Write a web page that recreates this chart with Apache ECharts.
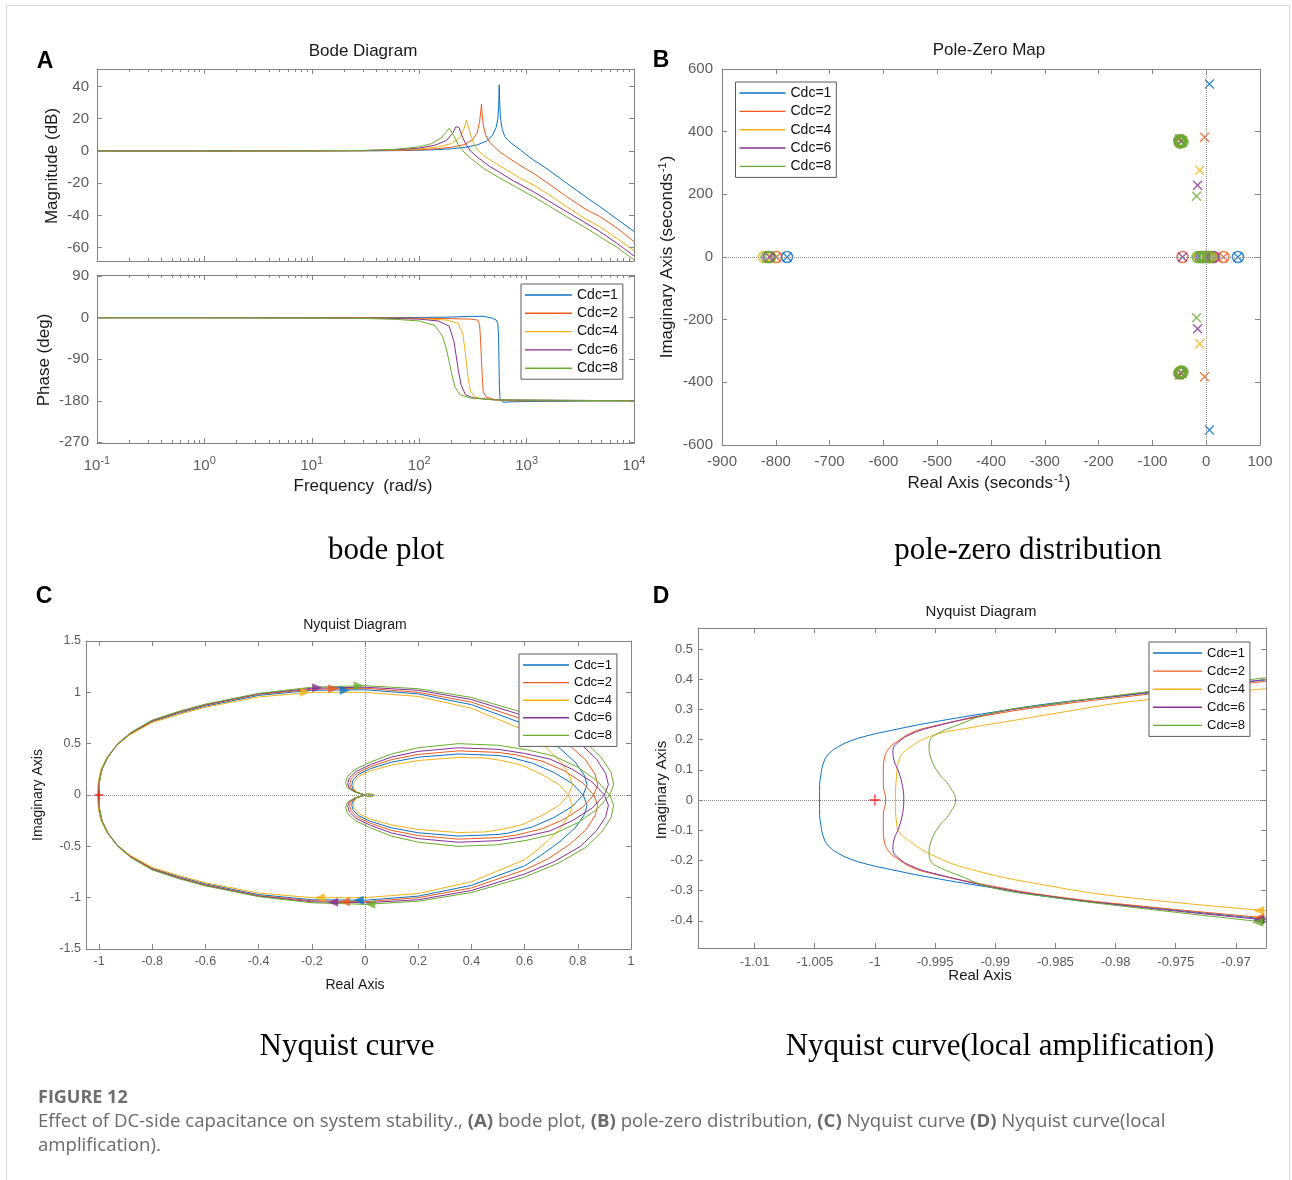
<!DOCTYPE html>
<html><head><meta charset="utf-8">
<script src="https://cdn.jsdelivr.net/npm/echarts@6.0.0/dist/echarts.min.js"></script>
<style>html,body{margin:0;padding:0;background:#fff}#c{width:1292px;height:1180px}</style>
</head><body><div id="c"></div>
<script>
// ---------------- DATA ----------------
const seriesNames = ['Cdc=1', 'Cdc=2', 'Cdc=4', 'Cdc=6', 'Cdc=8'];
const colors = ['#0a72c2', '#ee5a1c', '#f4b116', '#862f95', '#6aad2e'];

// Bode magnitude: [frequency rad/s, dB]
const mag1 = [[0.1,0],[1,0],[10,0.01],[30,0.05],[60,0.15],[100,0.4],[150,0.8],[200,1.3],[280,2.4],[350,3.8],[420,6],[480,9.5],[520,14.5],[540,20],[550,28],[556,41],[560,32],[570,21],[590,14],[625,9],[700,5.5],[800,2.5],[900,0],[1000,-2.5],[1150,-5.5],[1500,-10.5],[2000,-16.5],[2350,-20],[3000,-25],[4000,-31],[4800,-34.5],[7000,-42.5],[10000,-50]];
const mag2 = [[0.1,0],[1,0],[10,0.01],[30,0.1],[60,0.3],[100,0.7],[150,1.4],[200,2.3],[260,3.8],[310,6.5],[345,11],[365,18],[375,25],[380,29],[385,23],[395,16],[415,10],[450,5.5],[500,2.5],[560,-0.4],[650,-3.5],[800,-7.5],[1000,-11.5],[1150,-13.8],[1500,-19],[2350,-28.3],[3500,-36],[4800,-40.7],[7000,-48],[10000,-56.3]];
const mag4 = [[0.1,0],[1,0],[10,0.02],[30,0.15],[60,0.5],[100,1.2],[150,2.5],[200,4.5],[240,8.5],[262,14],[275,19],[285,16],[300,10],[320,5],[350,0.5],[400,-3],[480,-6.5],[563,-9.3],[700,-13],[900,-17.5],[1150,-21],[1600,-27],[2350,-34.5],[3500,-42],[4800,-47],[7000,-54.5],[10000,-61.9]];
const mag6 = [[0.1,0],[1,0],[10,0.03],[30,0.2],[60,0.7],[100,1.7],[140,3.5],[180,6.5],[205,11],[220,15],[226,16],[235,14.5],[250,9.5],[270,4.5],[300,0],[350,-4],[450,-9.5],[563,-13.4],[750,-18.5],[1150,-25.2],[1600,-31],[2350,-37.6],[3500,-44.5],[4800,-50],[7000,-57.5],[10000,-65.2]];
const mag8 = [[0.1,0],[1,0],[10,0.04],[30,0.3],[60,1],[100,2.5],[130,4.5],[160,8],[180,12],[190,14],[198,13],[210,9.5],[230,4],[255,0],[300,-4.5],[400,-11],[563,-16.9],[800,-22.5],[1150,-28.3],[1600,-34],[2350,-40.7],[3500,-47.5],[4800,-53.2],[7000,-60],[10000,-67.6]];

// Bode phase: [frequency rad/s, deg]
const ph1 = [[0.1,0],[1,0],[10,0],[100,0.5],[200,1.5],[300,3],[400,3],[480,-1],[520,-5],[540,-12],[548,-40],[553,-90],[558,-150],[565,-175],[600,-183],[700,-182.5],[1000,-181.5],[10000,-180]];
const ph2 = [[0.1,0],[1,0],[10,0],[50,-0.5],[100,-1],[200,-2],[300,-3],[350,-5],[365,-15],[373,-50],[380,-90],[387,-130],[395,-160],[420,-172],[500,-177],[700,-180],[10000,-180]];
const ph4 = [[0.1,0],[1,0],[10,-0.2],[50,-1],[100,-2],[180,-5],[230,-12],[255,-35],[265,-65],[275,-95],[285,-130],[300,-160],[330,-172],[400,-176],[600,-179],[10000,-180]];
const ph6 = [[0.1,0],[1,0],[10,-0.3],[50,-1.5],[100,-3],[150,-7],[190,-18],[210,-50],[220,-80],[230,-110],[245,-145],[270,-167],[320,-174],[500,-178],[10000,-180]];
const ph8 = [[0.1,0],[1,0],[10,-0.5],[30,-1.5],[60,-3.5],[100,-7],[140,-17],[165,-40],[180,-70],[190,-95],[200,-120],[215,-150],[240,-167],[300,-174],[500,-178],[10000,-180]];

// Pole-zero map: [real, imag]
const poles1 = [[6,552],[6,-552],[59,0],[-779,0],[-47,369],[-47,-369]];
const zeros1 = [[59,0],[-779,0],[-48,368],[-48,-368],[-3,0]];
const poles2 = [[-3,382],[-3,-382],[32,0],[-799,0],[-50,377],[-50,-377]];
const zeros2 = [[32,0],[-799,0],[-44,0],[-47,370],[-47,-370],[3,0],[11,0]];
const poles4 = [[-12,277],[-12,-277],[-45,371],[-45,-371]];
const zeros4 = [[-822,0],[-49,367],[-49,-367],[-13,0],[7,0]];
const poles6 = [[-16,229],[-16,-229],[-44,0],[-812,0],[-46,372],[-46,-372]];
const zeros6 = [[-813,0],[-48,370],[-48,-370],[14,0],[-8,0]];
const poles8 = [[-18,194],[-18,-194],[-45,370],[-45,-370]];
const zeros8 = [[-817,0],[-810,0],[-47,369],[-47,-369],[-46,372],[-44,367],[-50,373],[-49,365],[-44,-367],[-50,-372],[-46,-365],[-16,0],[-11,0],[-6,0],[-1,0],[4,0],[8,0]];

// Nyquist (full view): [real, imag]
const nyqC1 = [[0,0],[-0.028,0.024],[-0.045,0.056],[-0.05,0.096],[-0.045,0.144],[-0.025,0.2],[0.02,0.256],[0.1,0.32],[0.2,0.368],[0.35,0.4],[0.5,0.385],[0.54,0.37],[0.63,0.31],[0.71,0.22],[0.78,0.11],[0.82,0],[0.835,-0.1],[0.825,-0.19],[0.79,-0.32],[0.73,-0.46],[0.66,-0.59],[0.6,-0.69],[0.4,-0.88],[0.2,-0.985],[0,-1.025],[-0.2,-1.02],[-0.4,-0.97],[-0.6,-0.865],[-0.7,-0.795],[-0.8,-0.715],[-0.882,-0.595],[-0.934,-0.485],[-0.969,-0.365],[-0.992,-0.245],[-1.002,-0.12],[-1.004,0],[-1.002,0.12],[-0.992,0.245],[-0.969,0.365],[-0.934,0.485],[-0.882,0.595],[-0.8,0.715],[-0.7,0.795],[-0.6,0.865],[-0.4,0.97],[-0.2,1.02],[0,1.025],[0.2,0.985],[0.4,0.88],[0.6,0.69],[0.66,0.59],[0.73,0.46],[0.79,0.32],[0.825,0.19],[0.835,0.1],[0.82,0],[0.78,-0.11],[0.71,-0.22],[0.63,-0.31],[0.54,-0.37],[0.5,-0.385],[0.35,-0.4],[0.2,-0.368],[0.1,-0.32],[0.02,-0.256],[-0.025,-0.2],[-0.045,-0.144],[-0.05,-0.096],[-0.045,-0.056],[-0.028,-0.024],[0,0]];
const nyqC2 = [[0.03,0],[0.025,0.01],[0.008,0.012],[0,0],[-0.032,0.026],[-0.052,0.06],[-0.058,0.103],[-0.052,0.155],[-0.029,0.215],[0.02,0.275],[0.1,0.345],[0.2,0.395],[0.35,0.43],[0.5,0.415],[0.57,0.39],[0.665,0.33],[0.75,0.235],[0.82,0.115],[0.86,0],[0.875,-0.1],[0.865,-0.2],[0.83,-0.34],[0.77,-0.48],[0.69,-0.62],[0.6,-0.73],[0.4,-0.905],[0.2,-1.0],[0,-1.04],[-0.2,-1.03],[-0.4,-0.98],[-0.6,-0.875],[-0.7,-0.805],[-0.8,-0.72],[-0.88,-0.6],[-0.932,-0.49],[-0.967,-0.37],[-0.99,-0.25],[-1.0,-0.125],[-1.002,0],[-1.0,0.125],[-0.99,0.25],[-0.967,0.37],[-0.932,0.49],[-0.88,0.6],[-0.8,0.72],[-0.7,0.805],[-0.6,0.875],[-0.4,0.98],[-0.2,1.03],[0,1.04],[0.2,1.0],[0.4,0.905],[0.6,0.73],[0.69,0.62],[0.77,0.48],[0.83,0.34],[0.865,0.2],[0.875,0.1],[0.86,0],[0.82,-0.115],[0.75,-0.235],[0.665,-0.33],[0.57,-0.39],[0.5,-0.415],[0.35,-0.43],[0.2,-0.395],[0.1,-0.345],[0.02,-0.275],[-0.029,-0.215],[-0.052,-0.155],[-0.058,-0.103],[-0.052,-0.06],[-0.032,-0.026],[0,0],[0.008,-0.012],[0.025,-0.01],[0.03,0]];
const nyqC4 = [[0,0],[-0.025,0.022],[-0.04,0.051],[-0.045,0.088],[-0.04,0.131],[-0.022,0.183],[0.02,0.234],[0.1,0.292],[0.2,0.336],[0.35,0.365],[0.45,0.36],[0.505,0.34],[0.59,0.29],[0.665,0.2],[0.73,0.1],[0.765,0],[0.78,-0.1],[0.77,-0.18],[0.74,-0.31],[0.69,-0.44],[0.64,-0.55],[0.6,-0.63],[0.4,-0.845],[0.2,-0.96],[0,-1.0],[-0.2,-1.0],[-0.4,-0.955],[-0.6,-0.855],[-0.7,-0.785],[-0.8,-0.705],[-0.885,-0.585],[-0.937,-0.475],[-0.972,-0.36],[-0.994,-0.24],[-1.003,-0.12],[-1.005,0],[-1.003,0.12],[-0.994,0.24],[-0.972,0.36],[-0.937,0.475],[-0.885,0.585],[-0.8,0.705],[-0.7,0.785],[-0.6,0.855],[-0.4,0.955],[-0.2,1.0],[0,1.0],[0.2,0.96],[0.4,0.845],[0.6,0.63],[0.64,0.55],[0.69,0.44],[0.74,0.31],[0.77,0.18],[0.78,0.1],[0.765,0],[0.73,-0.1],[0.665,-0.2],[0.59,-0.29],[0.505,-0.34],[0.45,-0.36],[0.35,-0.365],[0.2,-0.336],[0.1,-0.292],[0.02,-0.234],[-0.022,-0.183],[-0.04,-0.131],[-0.045,-0.088],[-0.04,-0.051],[-0.025,-0.022],[0,0]];
const nyqC6 = [[0,0],[-0.036,0.028],[-0.059,0.065],[-0.065,0.11],[-0.059,0.165],[-0.033,0.23],[0.02,0.295],[0.1,0.37],[0.2,0.425],[0.35,0.46],[0.5,0.445],[0.6,0.405],[0.695,0.35],[0.78,0.25],[0.855,0.125],[0.9,0],[0.915,-0.1],[0.905,-0.21],[0.87,-0.35],[0.81,-0.5],[0.71,-0.65],[0.6,-0.77],[0.4,-0.93],[0.2,-1.02],[0,-1.05],[-0.2,-1.04],[-0.4,-0.985],[-0.6,-0.88],[-0.7,-0.81],[-0.8,-0.725],[-0.88,-0.605],[-0.93,-0.495],[-0.965,-0.375],[-0.988,-0.255],[-0.999,-0.13],[-1.001,0],[-0.999,0.13],[-0.988,0.255],[-0.965,0.375],[-0.93,0.495],[-0.88,0.605],[-0.8,0.725],[-0.7,0.81],[-0.6,0.88],[-0.4,0.985],[-0.2,1.04],[0,1.05],[0.2,1.02],[0.4,0.93],[0.6,0.77],[0.71,0.65],[0.81,0.5],[0.87,0.35],[0.905,0.21],[0.915,0.1],[0.9,0],[0.855,-0.125],[0.78,-0.25],[0.695,-0.35],[0.6,-0.405],[0.5,-0.445],[0.35,-0.46],[0.2,-0.425],[0.1,-0.37],[0.02,-0.295],[-0.033,-0.23],[-0.059,-0.165],[-0.065,-0.11],[-0.059,-0.065],[-0.036,-0.028],[0,0]];
const nyqC8 = [[0.035,0],[0.03,0.012],[0.01,0.014],[0,0],[-0.04,0.03],[-0.066,0.07],[-0.073,0.12],[-0.066,0.18],[-0.037,0.25],[0.02,0.32],[0.1,0.4],[0.2,0.46],[0.35,0.5],[0.5,0.485],[0.61,0.44],[0.71,0.38],[0.8,0.27],[0.874,0.135],[0.92,0],[0.935,-0.1],[0.925,-0.22],[0.89,-0.36],[0.83,-0.51],[0.73,-0.66],[0.6,-0.8],[0.4,-0.95],[0.2,-1.035],[0,-1.065],[-0.2,-1.05],[-0.4,-0.99],[-0.6,-0.885],[-0.7,-0.815],[-0.8,-0.73],[-0.88,-0.61],[-0.93,-0.5],[-0.965,-0.38],[-0.988,-0.26],[-0.998,-0.13],[-1.0,0],[-0.998,0.13],[-0.988,0.26],[-0.965,0.38],[-0.93,0.5],[-0.88,0.61],[-0.8,0.73],[-0.7,0.815],[-0.6,0.885],[-0.4,0.99],[-0.2,1.05],[0,1.065],[0.2,1.035],[0.4,0.95],[0.6,0.8],[0.73,0.66],[0.83,0.51],[0.89,0.36],[0.925,0.22],[0.935,0.1],[0.92,0],[0.874,-0.135],[0.8,-0.27],[0.71,-0.38],[0.61,-0.44],[0.5,-0.485],[0.35,-0.5],[0.2,-0.46],[0.1,-0.4],[0.02,-0.32],[-0.037,-0.25],[-0.066,-0.18],[-0.073,-0.12],[-0.066,-0.07],[-0.04,-0.03],[0,0],[0.01,-0.014],[0.03,-0.012],[0.035,0]];
const arrowsTopC = [[-0.076,1.02],[-0.12,1.035],[-0.225,1.0],[-0.18,1.045],[-0.024,1.065]];
const arrowsBotC = [[-0.024,-1.025],[-0.076,-1.04],[-0.17,-1.0],[-0.12,-1.045],[0.02,-1.065]];

// Nyquist (local view near -1): [real, imag]
const nyqD1 = [[-0.9670,0.400],[-0.9787,0.348],[-0.9853,0.320],[-0.9900,0.292],[-0.9953,0.257],[-0.9987,0.230],[-1.0007,0.212],[-1.0020,0.196],[-1.0031,0.175],[-1.0039,0.150],[-1.0043,0.120],[-1.0045,0.080],[-1.0046,0.040],[-1.0046,0],[-1.0046,-0.040],[-1.0045,-0.080],[-1.0043,-0.120],[-1.0039,-0.150],[-1.0031,-0.175],[-1.0020,-0.196],[-1.0007,-0.212],[-0.9987,-0.230],[-0.9953,-0.257],[-0.9900,-0.292],[-0.9853,-0.322],[-0.9787,-0.350],[-0.9670,-0.396]];
const nyqD2 = [[-0.9670,0.395],[-0.9787,0.344],[-0.9853,0.313],[-0.9900,0.285],[-0.9953,0.243],[-0.9970,0.222],[-0.9980,0.197],[-0.9988,0.172],[-0.9992,0.140],[-0.9993,0.100],[-0.9993,0.050],[-0.9991,0],[-0.9993,-0.050],[-0.9993,-0.100],[-0.9992,-0.140],[-0.9988,-0.172],[-0.9980,-0.197],[-0.9970,-0.222],[-0.9953,-0.243],[-0.9900,-0.287],[-0.9853,-0.318],[-0.9787,-0.348],[-0.9670,-0.392]];
const nyqD4 = [[-0.9670,0.370],[-0.9787,0.326],[-0.9853,0.285],[-0.9887,0.262],[-0.9920,0.240],[-0.9953,0.212],[-0.9973,0.168],[-0.9980,0.133],[-0.9982,0.078],[-0.9983,0],[-0.9982,-0.076],[-0.9980,-0.105],[-0.9973,-0.131],[-0.9953,-0.181],[-0.9920,-0.230],[-0.9853,-0.286],[-0.9787,-0.324],[-0.9670,-0.368]];
const nyqD6 = [[-0.9670,0.401],[-0.9787,0.350],[-0.9853,0.317],[-0.9900,0.289],[-0.9953,0.241],[-0.9970,0.218],[-0.9980,0.193],[-0.9985,0.163],[-0.9984,0.130],[-0.9980,0.090],[-0.9977,0.045],[-0.9976,0],[-0.9977,-0.045],[-0.9980,-0.090],[-0.9984,-0.130],[-0.9985,-0.163],[-0.9980,-0.193],[-0.9970,-0.218],[-0.9953,-0.241],[-0.9900,-0.290],[-0.9853,-0.320],[-0.9787,-0.352],[-0.9670,-0.399]];
const nyqD8 = [[-0.9670,0.407],[-0.9787,0.352],[-0.9853,0.318],[-0.9903,0.288],[-0.9930,0.250],[-0.9947,0.222],[-0.9953,0.205],[-0.9955,0.178],[-0.9953,0.133],[-0.9947,0.089],[-0.9938,0.045],[-0.9933,0],[-0.9938,-0.045],[-0.9947,-0.089],[-0.9953,-0.133],[-0.9955,-0.178],[-0.9953,-0.205],[-0.9947,-0.222],[-0.9930,-0.250],[-0.9903,-0.290],[-0.9853,-0.322],[-0.9787,-0.355],[-0.9670,-0.407]];
const arrowsD = [[-0.9681,-0.394],[-0.9681,-0.390],[-0.9681,-0.366],[-0.9681,-0.398],[-0.9682,-0.405]];
const criticalPoint = [[-1, 0]];

// Tick values
const magTicks = [-60, -40, -20, 0, 20, 40];
const phaseTicks = [-270, -180, -90, 0, 90];
const freqMinor = [0.2,0.3,0.4,0.5,0.6,0.7,0.8,0.9,2,3,4,5,6,7,8,9,20,30,40,50,60,70,80,90,200,300,400,500,600,700,800,900,2000,3000,4000,5000,6000,7000,8000,9000];
const nyqCxTicks = [-1, -0.8, -0.6, -0.4, -0.2, 0, 0.2, 0.4, 0.6, 0.8, 1];
const nyqDxTicks = [-1.01, -1.005, -1, -0.995, -0.99, -0.985, -0.98, -0.975, -0.97];
const nyqDyTicks = [-0.4, -0.3, -0.2, -0.1, 0, 0.1, 0.2, 0.3, 0.4, 0.5];

// ---------------- CHART ----------------
const FF = '"Liberation Sans", Arial, Helvetica, sans-serif';
const AXC = '#858585';
const TLC = '#5c5c5c';

const grids = [
  {left: 97, top: 69, width: 537, height: 192},
  {left: 97, top: 275, width: 537, height: 168},
  {left: 722, top: 69, width: 538, height: 376},
  {left: 86, top: 641, width: 545, height: 308},
  {left: 698, top: 628, width: 568, height: 320}
];

const numFmt = v => String(Math.round(v * 10000) / 10000);
const logFmt = v => '{b|10}{s|' + Math.round(Math.log10(v)) + '}';
const supRich = {
  b: {fontSize: 15, lineHeight: 15, verticalAlign: 'bottom', color: TLC, fontFamily: FF},
  s: {fontSize: 11, lineHeight: 11, padding: [0, 0, 9, 0], color: TLC, fontFamily: FF}
};

function ax(gridIndex, position, o) {
  const lab = o.label || {};
  const a = {
    gridIndex, position, type: o.type || 'value', min: o.min, max: o.max,
    axisLine: {show: o.line !== false, onZero: false, lineStyle: {color: AXC, width: 1}},
    axisTick: {show: true, inside: true, length: o.tickLen || 5, lineStyle: {color: AXC, width: 1}},
    axisLabel: {show: !!o.label, color: TLC, fontFamily: FF, fontSize: lab.size || 15, margin: lab.margin || 8},
    splitLine: {show: false}, minorTick: {show: false},
    silent: true, z: 3, animation: false
  };
  if (o.interval != null) a.interval = o.interval;
  if (o.ticks) { a.axisTick.customValues = o.ticks; a.axisLabel.customValues = o.ticks; }
  if (lab.formatter) a.axisLabel.formatter = lab.formatter;
  if (lab.rich) a.axisLabel.rich = lab.rich;
  return a;
}

const logR = {type: 'log', min: 0.1, max: 10000};
const xAxis = [
  ax(0, 'bottom', logR),
  ax(0, 'top', logR),
  ax(1, 'bottom', Object.assign({label: {margin: 15, formatter: logFmt, rich: supRich}}, logR)),
  ax(1, 'top', logR),
  ax(2, 'bottom', {min: -900, max: 100, interval: 100, label: {size: 15, margin: 9}}),
  ax(2, 'top', {min: -900, max: 100, interval: 100}),
  ax(3, 'bottom', {min: -1.049, max: 1, ticks: nyqCxTicks, label: {size: 12.5, margin: 6, formatter: numFmt}}),
  ax(3, 'top', {min: -1.049, max: 1, ticks: nyqCxTicks}),
  ax(4, 'bottom', {min: -1.0147, max: -0.9675, ticks: nyqDxTicks, label: {size: 13, margin: 8, formatter: numFmt}}),
  ax(4, 'top', {min: -1.0147, max: -0.9675, ticks: nyqDxTicks}),
  ax(0, 'bottom', Object.assign({ticks: freqMinor, tickLen: 3, line: false}, logR)),
  ax(0, 'top', Object.assign({ticks: freqMinor, tickLen: 3, line: false}, logR)),
  ax(1, 'bottom', Object.assign({ticks: freqMinor, tickLen: 3, line: false}, logR)),
  ax(1, 'top', Object.assign({ticks: freqMinor, tickLen: 3, line: false}, logR))
];
const yAxis = [
  ax(0, 'left', {min: -68.3, max: 50.8, ticks: magTicks, label: {size: 15, margin: 8}}),
  ax(0, 'right', {min: -68.3, max: 50.8, ticks: magTicks}),
  ax(1, 'left', {min: -271.5, max: 92.6, ticks: phaseTicks, label: {size: 15, margin: 8}}),
  ax(1, 'right', {min: -271.5, max: 92.6, ticks: phaseTicks}),
  ax(2, 'left', {min: -600, max: 600, interval: 200, label: {size: 15, margin: 9}}),
  ax(2, 'right', {min: -600, max: 600, interval: 200}),
  ax(3, 'left', {min: -1.5, max: 1.5, interval: 0.5, label: {size: 12.5, margin: 5, formatter: numFmt}}),
  ax(3, 'right', {min: -1.5, max: 1.5, interval: 0.5}),
  ax(4, 'left', {min: -0.49, max: 0.5695, ticks: nyqDyTicks, label: {size: 13, margin: 5, formatter: numFmt}}),
  ax(4, 'right', {min: -0.49, max: 0.5695, ticks: nyqDyTicks})
];

function lineS(i, xi, yi, data, extra) {
  return Object.assign({
    type: 'line', name: seriesNames[i], xAxisIndex: xi, yAxisIndex: yi, data,
    symbol: 'none', showSymbol: false, color: colors[i],
    lineStyle: {width: 1, color: colors[i]}, clip: true, silent: true, animation: false, z: 2
  }, extra || {});
}
const dotted = axesList => ({
  silent: true, symbol: 'none', label: {show: false}, animation: false,
  lineStyle: {type: 'dotted', color: '#8a8a8a', width: 1}, data: axesList
});

const series = [];
const magData = [mag1, mag2, mag4, mag6, mag8];
const phData = [ph1, ph2, ph4, ph6, ph8];
const polesData = [poles1, poles2, poles4, poles6, poles8];
const zerosData = [zeros1, zeros2, zeros4, zeros6, zeros8];
const nyqCData = [nyqC1, nyqC2, nyqC4, nyqC6, nyqC8];
const nyqDData = [nyqD1, nyqD2, nyqD4, nyqD6, nyqD8];

magData.forEach((d, i) => series.push(lineS(i, 0, 0, d)));
phData.forEach((d, i) => series.push(lineS(i, 2, 2, d)));

// Pole-zero map
series.push({type: 'line', name: '_pzaxes', xAxisIndex: 4, yAxisIndex: 4, data: [], silent: true, markLine: dotted([{xAxis: 0}, {yAxis: 0}])});
const CROSS = 'path://M0,0L10,10M10,0L0,10';
polesData.forEach((d, i) => {
  series.push({type: 'scatter', name: seriesNames[i], xAxisIndex: 4, yAxisIndex: 4, data: zerosData[i],
    symbol: 'circle', symbolSize: 11, itemStyle: {color: 'none', borderColor: colors[i], borderWidth: 1.6},
    silent: true, animation: false, z: 3});
  series.push({type: 'scatter', name: seriesNames[i], xAxisIndex: 4, yAxisIndex: 4, data: d,
    symbol: CROSS, symbolSize: 9, itemStyle: {color: 'none', borderColor: colors[i], borderWidth: 1.4},
    silent: true, animation: false, z: 3});
});

// Nyquist full
series.push({type: 'line', name: '_cAxes', xAxisIndex: 6, yAxisIndex: 6, data: [], silent: true, markLine: dotted([{xAxis: 0}, {yAxis: 0}])});
nyqCData.forEach((d, i) => series.push(lineS(i, 6, 6, d)));
arrowsTopC.forEach((p, i) => series.push({type: 'scatter', name: seriesNames[i], xAxisIndex: 6, yAxisIndex: 6, data: [p],
  symbol: 'triangle', symbolSize: [9, 10], symbolRotate: -90, itemStyle: {color: colors[i]}, silent: true, animation: false, z: 4}));
arrowsBotC.forEach((p, i) => series.push({type: 'scatter', name: seriesNames[i], xAxisIndex: 6, yAxisIndex: 6, data: [p],
  symbol: 'triangle', symbolSize: [9, 10], symbolRotate: 90, itemStyle: {color: colors[i]}, silent: true, animation: false, z: 4}));
const PLUS = 'path://M5,0L5,10M0,5L10,5';
series.push({type: 'scatter', name: '_crit1', xAxisIndex: 6, yAxisIndex: 6, data: criticalPoint, symbol: PLUS, symbolSize: 9,
  itemStyle: {color: 'none', borderColor: '#ff0000', borderWidth: 1.3}, silent: true, animation: false, z: 5});

// Nyquist local
series.push({type: 'line', name: '_dAxes', xAxisIndex: 8, yAxisIndex: 8, data: [], silent: true, markLine: dotted([{yAxis: 0}])});
nyqDData.forEach((d, i) => series.push(lineS(i, 8, 8, d, {smooth: 0.45})));
arrowsD.forEach((p, i) => series.push({type: 'scatter', name: seriesNames[i], xAxisIndex: 8, yAxisIndex: 8, data: [p],
  symbol: 'triangle', symbolSize: [9, 11], symbolRotate: 90, itemStyle: {color: colors[i]}, silent: true, animation: false, z: 4}));
series.push({type: 'scatter', name: '_crit2', xAxisIndex: 8, yAxisIndex: 8, data: criticalPoint, symbol: PLUS, symbolSize: 11,
  itemStyle: {color: 'none', borderColor: '#ff0000', borderWidth: 1.3}, silent: true, animation: false, z: 5});

function legend(left, top, itemW, size, gap) {
  return {
    show: true, orient: 'vertical', left, top, icon: 'rect', itemWidth: itemW, itemHeight: 1.4, itemGap: gap,
    padding: [4, 5, 4, 4], borderColor: '#5a5a5a', borderWidth: 1, backgroundColor: '#ffffff',
    selectedMode: false, z: 10,
    textStyle: {fontFamily: FF, fontSize: size, color: '#111', lineHeight: 14},
    data: seriesNames.map((n, i) => ({name: n, itemStyle: {color: colors[i], borderWidth: 0}}))
  };
}

function txt(x, y, text, size, o) {
  o = o || {};
  return {
    type: 'text', x, y, rotation: o.rot || 0, silent: true, z: 100,
    style: {
      text, fontSize: size, fontFamily: o.ff || FF, fontWeight: o.fw || 'normal',
      fill: o.color || '#1a1a1a', textAlign: o.align || 'center', textVerticalAlign: o.va || 'middle',
      rich: o.rich, lineHeight: o.lh
    }
  };
}
const supAxisRich = size => ({
  a: {fontSize: size, lineHeight: size, verticalAlign: 'bottom', fontFamily: FF, fill: '#1a1a1a'},
  s: {fontSize: 11, lineHeight: 11, padding: [0, 1, 9, 1], fontFamily: FF, fill: '#1a1a1a'}
});
const CAP = '"Open Sans", "Noto Sans", sans-serif';
const SERIF = '"Liberation Serif", "Times New Roman", serif';
const LET = 'Arial, "Liberation Sans", sans-serif';

const graphic = [
  {type: 'rect', shape: {x: 6.5, y: 5.5, width: 1283, height: 1190}, style: {fill: 'none', stroke: '#d8d8d8', lineWidth: 1}, silent: true, z: 0},
  txt(45, 62, 'A', 23, {fw: 'bold', color: '#000', ff: LET}),
  txt(661, 61, 'B', 23, {fw: 'bold', color: '#000', ff: LET}),
  txt(44, 597, 'C', 23, {fw: 'bold', color: '#000', ff: LET}),
  txt(661, 597, 'D', 23, {fw: 'bold', color: '#000', ff: LET}),
  txt(363, 51, 'Bode Diagram', 17),
  txt(989, 50, 'Pole-Zero Map', 17),
  txt(355, 625, 'Nyquist Diagram', 14),
  txt(981, 612, 'Nyquist Diagram', 15),
  txt(363, 486, 'Frequency  (rad/s)', 17),
  txt(52, 166, 'Magnitude (dB)', 17, {rot: Math.PI / 2}),
  txt(44, 360, 'Phase (deg)', 17, {rot: Math.PI / 2}),
  txt(989, 483, '{a|Real Axis (seconds}{s|-1}{a|)}', 17, {rich: supAxisRich(17)}),
  txt(667, 257, '{a|Imaginary Axis (seconds}{s|-1}{a|)}', 17, {rot: Math.PI / 2, rich: supAxisRich(17)}),
  txt(355, 985, 'Real Axis', 14),
  txt(38, 795, 'Imaginary Axis', 14, {rot: Math.PI / 2}),
  txt(980, 976, 'Real Axis', 15),
  txt(662, 790, 'Imaginary Axis', 15, {rot: Math.PI / 2}),
  txt(386, 551, 'bode plot', 31, {ff: SERIF, color: '#000'}),
  txt(1028, 551, 'pole-zero distribution', 31, {ff: SERIF, color: '#000'}),
  txt(347, 1047, 'Nyquist curve', 31, {ff: SERIF, color: '#000'}),
  txt(1000, 1047, 'Nyquist curve(local amplification)', 31, {ff: SERIF, color: '#000'}),
  txt(38, 1098, 'FIGURE 12', 18, {ff: CAP, fw: 'bold', color: '#6e6e6e', align: 'left'}),
  txt(38, 1110, 'Effect of DC-side capacitance on system stability., {b|(A)} bode plot, {b|(B)} pole-zero distribution, {b|(C)} Nyquist curve {b|(D)} Nyquist curve(local\namplification).', 18.6,
    {ff: CAP, color: '#6a6a6a', align: 'left', va: 'top', lh: 24,
     rich: {b: {fontWeight: 'bold', fontSize: 18.6, fontFamily: CAP, fill: '#6a6a6a', lineHeight: 24}}})
];

const option = {
  animation: false,
  backgroundColor: '#ffffff',
  grid: grids.map(g => Object.assign({show: false, containLabel: false}, g)),
  xAxis, yAxis, series,
  legend: [legend(521, 284, 47, 14, 4.3), legend(735.5, 82, 46, 14, 4.35), legend(519, 654, 46, 13, 3.6), legend(1149, 642, 49, 13, 4.1)],
  graphic
};

const chart = echarts.init(document.getElementById('c'), null, {renderer: 'canvas', width: 1292, height: 1180});
chart.setOption(option);
</script>
</body></html>
